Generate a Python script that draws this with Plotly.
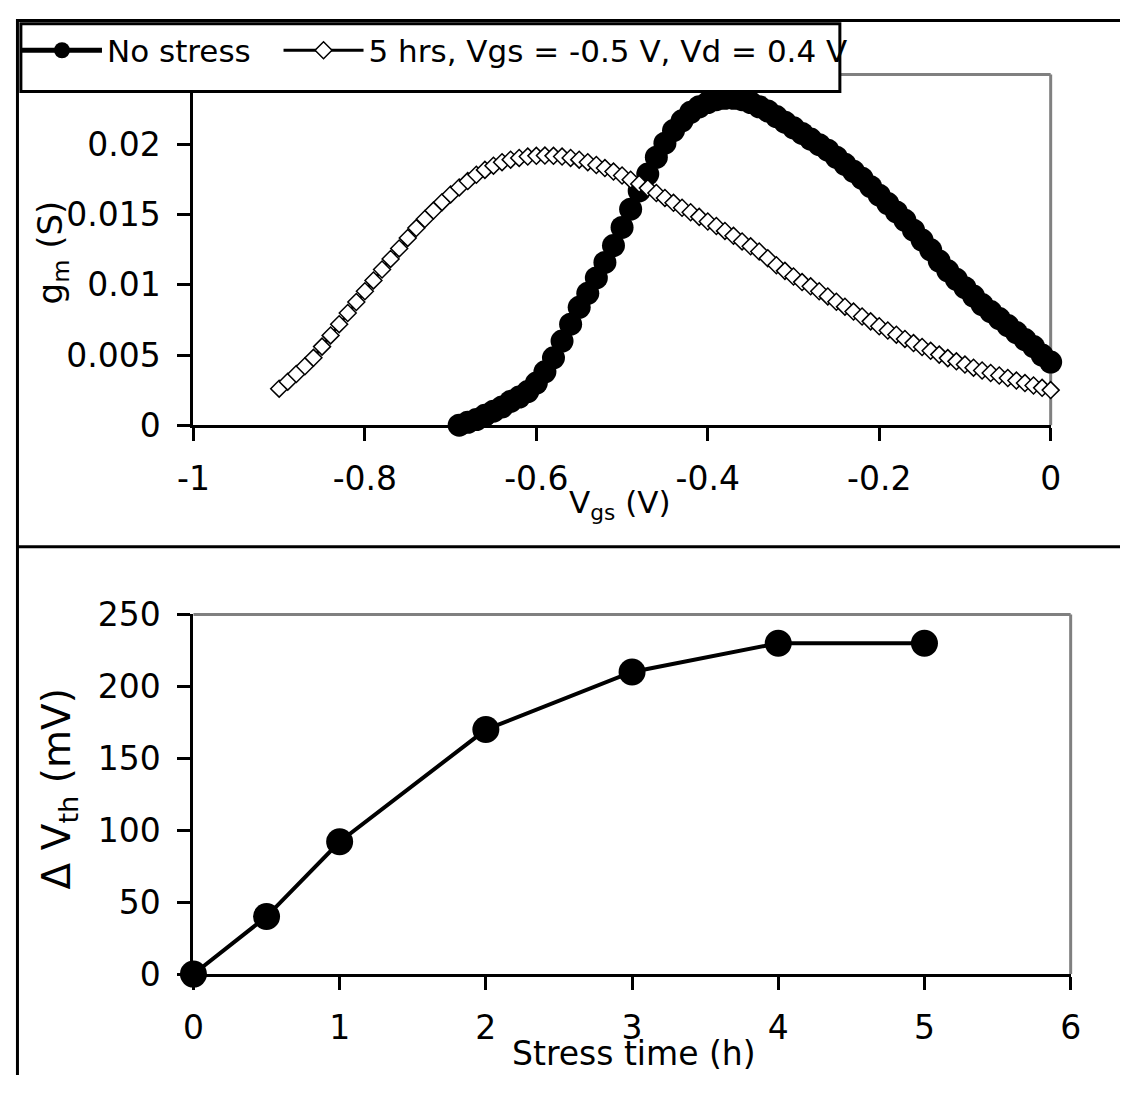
import plotly.graph_objects as go

# ---------------- data ----------------
vgs_fresh = [-0.69, -0.68, -0.67, -0.66, -0.65, -0.64, -0.63, -0.62, -0.61, -0.60,
             -0.59, -0.58, -0.57, -0.56, -0.55, -0.54, -0.53, -0.52, -0.51, -0.50,
             -0.49, -0.48, -0.47, -0.46, -0.45, -0.44, -0.43, -0.42, -0.41, -0.40,
             -0.39, -0.38, -0.37, -0.36, -0.35, -0.34, -0.33, -0.32, -0.31, -0.30,
             -0.29, -0.28, -0.27, -0.26, -0.25, -0.24, -0.23, -0.22, -0.21, -0.20,
             -0.19, -0.18, -0.17, -0.16, -0.15, -0.14, -0.13, -0.12, -0.11, -0.10,
             -0.09, -0.08, -0.07, -0.06, -0.05, -0.04, -0.03, -0.02, -0.01, 0.00]
gm_fresh = [0.0000, 0.0002, 0.0004, 0.0007, 0.0010, 0.0013, 0.0017, 0.0020, 0.0024, 0.0030,
            0.0038, 0.0048, 0.0060, 0.0072, 0.0084, 0.0094, 0.0105, 0.0116, 0.0128, 0.0141,
            0.0154, 0.0167, 0.0179, 0.0191, 0.0201, 0.0210, 0.0217, 0.0223, 0.0227, 0.0230,
            0.0232, 0.0233, 0.0233, 0.0232, 0.0230, 0.0227, 0.0224, 0.0220, 0.0216, 0.0212,
            0.0208, 0.0204, 0.0200, 0.0196, 0.0191, 0.0186, 0.0181, 0.0176, 0.0170, 0.0164,
            0.0158, 0.0152, 0.0146, 0.0139, 0.0132, 0.0125, 0.0117, 0.0110, 0.0104, 0.0098,
            0.0092, 0.0086, 0.0081, 0.0076, 0.0071, 0.0066, 0.0061, 0.0056, 0.0050, 0.0045]

vgs_stress = [-0.90, -0.89, -0.88, -0.87, -0.86, -0.85, -0.84, -0.83, -0.82, -0.81,
              -0.80, -0.79, -0.78, -0.77, -0.76, -0.75, -0.74, -0.73, -0.72, -0.71,
              -0.70, -0.69, -0.68, -0.67, -0.66, -0.65, -0.64, -0.63, -0.62, -0.61,
              -0.60, -0.59, -0.58, -0.57, -0.56, -0.55, -0.54, -0.53, -0.52, -0.51,
              -0.50, -0.49, -0.48, -0.47, -0.46, -0.45, -0.44, -0.43, -0.42, -0.41,
              -0.40, -0.39, -0.38, -0.37, -0.36, -0.35, -0.34, -0.33, -0.32, -0.31,
              -0.30, -0.29, -0.28, -0.27, -0.26, -0.25, -0.24, -0.23, -0.22, -0.21,
              -0.20, -0.19, -0.18, -0.17, -0.16, -0.15, -0.14, -0.13, -0.12, -0.11,
              -0.10, -0.09, -0.08, -0.07, -0.06, -0.05, -0.04, -0.03, -0.02, -0.01, 0.00]
gm_stress = [0.00260, 0.00310, 0.00365, 0.00420, 0.00480, 0.00560, 0.00640, 0.00720, 0.00800, 0.00878,
             0.00955, 0.01032, 0.01110, 0.01185, 0.01260, 0.01335, 0.01405, 0.01470, 0.01530, 0.01590,
             0.01645, 0.01695, 0.01740, 0.01785, 0.01820, 0.01850, 0.01875, 0.01893, 0.01905, 0.01915,
             0.01920, 0.01922, 0.01920, 0.01915, 0.01905, 0.01893, 0.01875, 0.01855, 0.01833, 0.01808,
             0.01780, 0.01750, 0.01720, 0.01690, 0.01655, 0.01620, 0.01585, 0.01550, 0.01518, 0.01485,
             0.01452, 0.01420, 0.01385, 0.01350, 0.01310, 0.01275, 0.01238, 0.01190, 0.01140, 0.01100,
             0.01060, 0.01020, 0.00990, 0.00955, 0.00918, 0.00880, 0.00845, 0.00810, 0.00775, 0.00740,
             0.00705, 0.00675, 0.00645, 0.00615, 0.00585, 0.00557, 0.00530, 0.00503, 0.00478, 0.00455,
             0.00432, 0.00410, 0.00390, 0.00372, 0.00354, 0.00336, 0.00318, 0.00300, 0.00283, 0.00266, 0.00250]

stress_time = [0, 0.5, 1, 2, 3, 4, 5]
delta_vth = [0, 40, 92, 170, 210, 230, 230]

series_names = ["No stress", "5 hrs, Vgs = -0.5 V, Vd = 0.4 V"]

top_x_ticks = [-1, -0.8, -0.6, -0.4, -0.2, 0]
top_x_labels = ["-1", "-0.8", "-0.6", "-0.4", "-0.2", "0"]
top_y_ticks = [0, 0.005, 0.01, 0.015, 0.02, 0.025]
top_y_labels = ["0", "0.005", "0.01", "0.015", "0.02", "0.025"]
bot_x_ticks = [0, 1, 2, 3, 4, 5, 6]
bot_x_labels = ["0", "1", "2", "3", "4", "5", "6"]
bot_y_ticks = [0, 50, 100, 150, 200, 250]
bot_y_labels = ["0", "50", "100", "150", "200", "250"]

# ---------------- layout helpers ----------------
W, H = 1131, 1095
FONT = "DejaVu Sans, Verdana, sans-serif"
# the photographed page shows the figure slightly inset and scaled; these
# constants map a target pixel position in the picture to figure pixels
OX, SX = 15.4, 0.977
OY, SY = 17.3, 0.968


def fx(p):
    return max(0.0, (p - OX) / SX) / W


def fy(p):
    return 1 - max(0.0, (p - OY) / SY) / H


axis_common = dict(showline=True, linecolor="black", linewidth=3, ticks="outside",
                   ticklen=13, tickwidth=3, tickcolor="black", showgrid=False,
                   zeroline=False, tickfont=dict(family=FONT, size=33, color="black"))

fig = go.Figure()
fig.add_trace(go.Scatter(
    x=vgs_fresh, y=gm_fresh, name=series_names[0], mode="lines+markers",
    line=dict(color="black", width=5),
    marker=dict(symbol="circle", size=23, color="black"),
    cliponaxis=False, xaxis="x", yaxis="y", legend="legend"))
fig.add_trace(go.Scatter(
    x=vgs_stress, y=gm_stress, name=series_names[1], mode="lines+markers",
    line=dict(color="black", width=3),
    marker=dict(symbol="diamond", size=13, color="white",
                line=dict(color="black", width=1.5)),
    cliponaxis=False, xaxis="x", yaxis="y", legend="legend2"))
fig.add_trace(go.Scatter(
    x=stress_time, y=delta_vth, mode="lines+markers", showlegend=False,
    line=dict(color="black", width=4),
    marker=dict(symbol="circle", size=27, color="black"),
    cliponaxis=False, xaxis="x2", yaxis="y2"))

shapes = []
# gray plot frames (top & right)
for xr, yr in (("x domain", "y domain"), ("x2 domain", "y2 domain")):
    shapes.append(dict(type="line", xref=xr, yref=yr, x0=0, x1=1, y0=1, y1=1,
                       line=dict(color="#808080", width=3), layer="below"))
    shapes.append(dict(type="line", xref=xr, yref=yr, x0=1, x1=1, y0=0, y1=1,
                       line=dict(color="#808080", width=3), layer="below"))
# outer black frame lines
shapes.append(dict(type="line", xref="paper", yref="paper", x0=0, x1=1,
                   y0=1 - 1.5 / H, y1=1 - 1.5 / H, line=dict(color="black", width=3)))
shapes.append(dict(type="line", xref="paper", yref="paper", x0=1.5 / W, x1=1.5 / W,
                   y0=0, y1=1, line=dict(color="black", width=3)))
shapes.append(dict(type="line", xref="paper", yref="paper", x0=0, x1=1,
                   y0=fy(547), y1=fy(547), line=dict(color="black", width=3)))
# legend box
shapes.append(dict(type="rect", xref="paper", yref="paper", x0=5 / W, x1=fx(840),
                   y0=fy(90), y1=1 - 5 / H, line=dict(color="black", width=3),
                   fillcolor="white", layer="above"))

annotations = [
    dict(text="V<sub>gs</sub> (V)", x=fx(620), y=fy(505), xref="paper", yref="paper",
         showarrow=False, xanchor="center", yanchor="middle",
         font=dict(family=FONT, size=31, color="black")),
    dict(text="Stress time (h)", x=fx(634), y=fy(1056), xref="paper", yref="paper",
         showarrow=False, xanchor="center", yanchor="middle",
         font=dict(family=FONT, size=33, color="black")),
    dict(text="g<sub>m</sub> (S)", x=fx(52), y=fy(252), xref="paper", yref="paper",
         showarrow=False, xanchor="center", yanchor="middle", textangle=-90,
         font=dict(family=FONT, size=34, color="black")),
    dict(text="Δ V<sub>th</sub> (mV)", x=fx(58), y=fy(790), xref="paper", yref="paper",
         showarrow=False, xanchor="center", yanchor="middle", textangle=-90,
         font=dict(family=FONT, size=39, color="black")),
]

legend_common = dict(orientation="h", xanchor="left", yanchor="middle",
                     bgcolor="rgba(0,0,0,0)", borderwidth=0, itemwidth=80,
                     font=dict(family=FONT, size=31, color="black"))

fig.update_layout(
    width=W, height=H, margin=dict(l=0, r=0, t=0, b=0),
    paper_bgcolor="white", plot_bgcolor="white",
    font=dict(family=FONT, color="black"),
    xaxis=dict(domain=[fx(193), fx(1051)], range=[-1, 0], tickvals=top_x_ticks,
               ticktext=top_x_labels, anchor="y", ticklabelstandoff=9, **axis_common),
    yaxis=dict(domain=[fy(425), fy(73)], range=[0, 0.025], tickvals=top_y_ticks,
               ticktext=top_y_labels, anchor="x", ticklabelstandoff=10, **axis_common),
    xaxis2=dict(domain=[fx(193), fx(1071)], range=[0, 6], tickvals=bot_x_ticks,
                ticktext=bot_x_labels, anchor="y2", ticklabelstandoff=9, **axis_common),
    yaxis2=dict(domain=[fy(976), fy(615)], range=[0, 250], tickvals=bot_y_ticks,
                ticktext=bot_y_labels, anchor="x2", ticklabelstandoff=10, **axis_common),
    legend=dict(x=1 / W, y=fy(49), **legend_common),
    legend2=dict(x=(fx(285) * W - 7) / W, y=fy(49), **legend_common),
    shapes=shapes, annotations=annotations,
)

fig.write_html("out.html")
